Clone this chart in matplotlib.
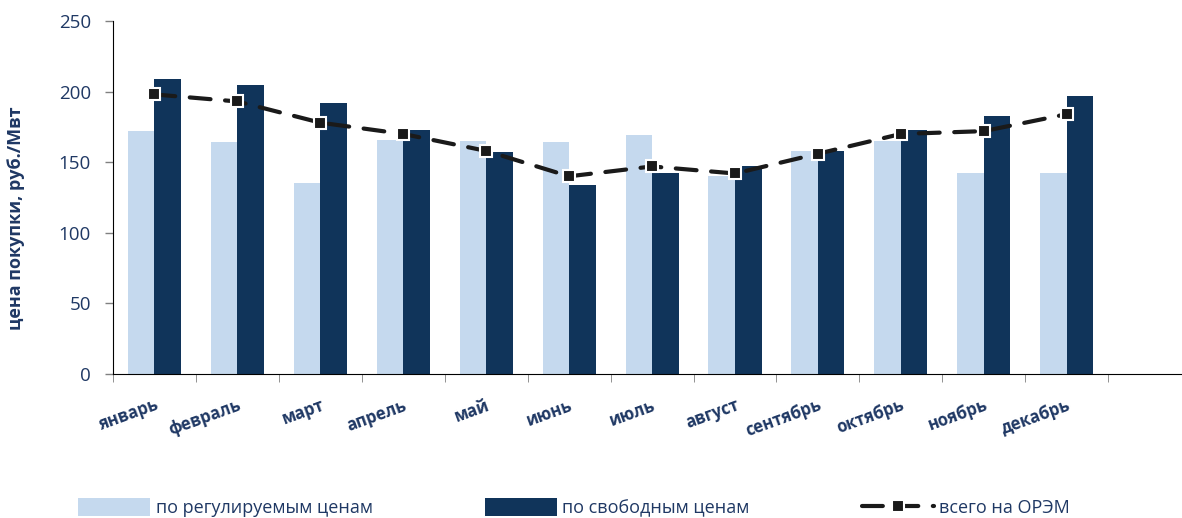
import numpy as np
import matplotlib.pyplot as plt

months = ["январь", "февраль", "март", "апрель", "май", "июнь",
          "июль", "август", "сентябрь", "октябрь", "ноябрь", "декабрь"]
regulated = [172, 164, 135, 166, 165, 164, 169, 140, 158, 165, 142, 142]
free = [209, 205, 192, 173, 157, 134, 142, 147, 158, 173, 183, 197]
total = [198, 193, 178, 170, 158, 140, 147, 142, 156, 170, 172, 184]

navy = "#1F3864"
light = "#C5D9EE"
dark = "#10345A"

plt.rcParams['font.family'] = ['Open Sans', 'DejaVu Sans']

fig = plt.figure(figsize=(11.82, 5.18), dpi=100)
ax = fig.add_axes([113/1182, 1-374/518, 1-113/1182, (374-21)/518])

x = np.arange(len(months))
w = 0.32
b1 = ax.bar(x - w/2, regulated, w, color=light, label="по регулируемым ценам", zorder=2)
b2 = ax.bar(x + w/2, free, w, color=dark, label="по свободным ценам", zorder=2)
ln, = ax.plot(x, total, color="#1a1a1a", lw=3, dashes=(5, 3.5), dash_capstyle='round',
              marker='s', ms=8, mfc="#1a1a1a", mec="white", mew=1.5,
              label="всего на ОРЭМ", zorder=3)

ax.set_xlim(-0.5, 12.39)
ax.set_ylim(0, 250)
ax.set_yticks([0, 50, 100, 150, 200, 250])
ax.tick_params(axis='y', colors='#808080', labelcolor=navy, labelsize=13.5,
               length=6, width=1, pad=10)

ax.set_xticks(x)
ax.set_xticklabels(months, rotation=20, ha='right', rotation_mode='anchor',
                   fontsize=12, fontweight='bold', color=navy)
ax.tick_params(axis='x', which='major', length=0, pad=16)
ax.set_xticks(np.arange(-0.5, 12, 1), minor=True)
ax.tick_params(axis='x', which='minor', length=6, color='#808080', direction='out')

ax.spines['top'].set_visible(False)
ax.spines['right'].set_visible(False)
ax.spines['left'].set_color('black')
ax.spines['bottom'].set_color('black')

ax.set_ylabel("цена покупки, руб./Мвт", fontsize=13, fontweight='bold', color=navy)
ax.yaxis.set_label_coords(-0.082, 0.44)

leg = fig.legend(handles=[b1, b2, ln], loc='lower left', bbox_to_anchor=(62/1182, -0.03),
                 ncol=3, frameon=False, fontsize=13, handlelength=4.0, handleheight=1.1,
                 columnspacing=6.2, handletextpad=0.3)
for t in leg.get_texts():
    t.set_color(navy)

fig.savefig("out.png", dpi=100)
